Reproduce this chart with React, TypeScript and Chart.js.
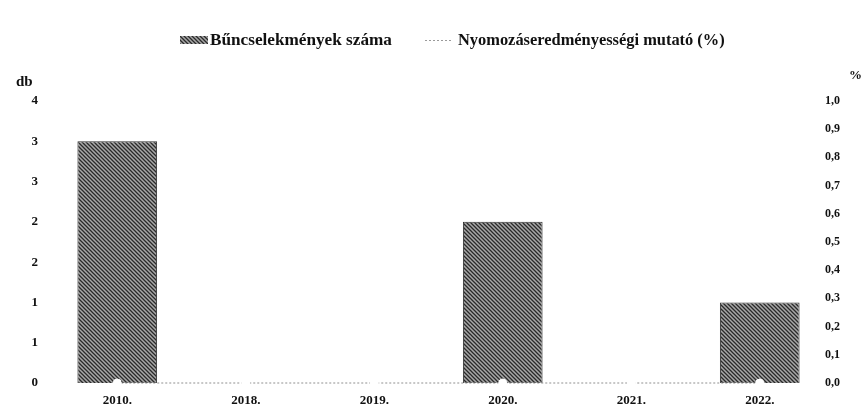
import React, { useEffect, useRef } from "react";
import { Chart, registerables } from "chart.js";

Chart.register(...registerables);

const categories = ["2010.", "2018.", "2019.", "2020.", "2021.", "2022."];
const crimeCounts = [3, 0, 0, 2, 0, 1];
const clearanceRate = [0, 0, 0, 0, 0, 0];
const seriesNames = ["Bűncselekmények száma", "Nyomozáseredményességi mutató (%)"];
const leftAxisTitle = "db";
const rightAxisTitle = "%";

const SERIF = "'Liberation Serif', 'DejaVu Serif', serif";

function makePattern(): CanvasPattern | string {
  const c = document.createElement("canvas");
  c.width = 4;
  c.height = 4;
  const g = c.getContext("2d");
  if (!g) return "#666";
  g.fillStyle = "#a8a8a8";
  g.fillRect(0, 0, 4, 4);
  g.strokeStyle = "#2a2a2a";
  g.lineWidth = 1.3;
  g.beginPath();
  g.moveTo(-1, -1);
  g.lineTo(5, 5);
  g.moveTo(-1, 3);
  g.lineTo(1, 5);
  g.moveTo(3, -1);
  g.lineTo(5, 1);
  g.stroke();
  const p = g.createPattern(c, "repeat");
  return p || "#666";
}

export default function App() {
  const ref = useRef<HTMLCanvasElement | null>(null);

  useEffect(() => {
    if (!ref.current) return;
    const pattern = makePattern();

    const fitText = (ctx: CanvasRenderingContext2D, text: string, weight: string, target: number) => {
      ctx.font = `${weight} 20px ${SERIF}`;
      const w = ctx.measureText(text).width;
      const size = (20 * target) / w;
      ctx.font = `${weight} ${size.toFixed(2)}px ${SERIF}`;
    };

    const overlay = {
      id: "overlay",
      afterDraw(chart: any) {
        const ctx: CanvasRenderingContext2D = chart.ctx;
        ctx.save();
        // legend item 1
        ctx.fillStyle = pattern as any;
        ctx.fillRect(180, 36, 28, 8);
        ctx.fillStyle = "#111";
        ctx.textBaseline = "middle";
        ctx.textAlign = "left";
        fitText(ctx, seriesNames[0], "bold", 182);
        ctx.fillText(seriesNames[0], 210, 41);
        // legend item 2
        ctx.strokeStyle = "#9a9a9a";
        ctx.lineWidth = 1;
        ctx.setLineDash([2, 2]);
        ctx.beginPath();
        ctx.moveTo(425, 40.5);
        ctx.lineTo(451, 40.5);
        ctx.stroke();
        ctx.setLineDash([]);
        ctx.fillStyle = "#111";
        fitText(ctx, seriesNames[1], "bold", 267);
        ctx.fillText(seriesNames[1], 458, 41);
        // axis titles
        ctx.font = `bold 15px ${SERIF}`;
        ctx.fillText(leftAxisTitle, 16, 82);
        ctx.font = `bold 13px ${SERIF}`;
        ctx.fillText(rightAxisTitle, 849, 76);
        ctx.restore();
      },
    };

    const chart = new Chart(ref.current, {
      type: "bar",
      data: {
        labels: categories,
        datasets: [
          {
            type: "bar",
            label: seriesNames[0],
            data: crimeCounts,
            backgroundColor: pattern as any,
            borderColor: "#333",
            borderWidth: 1,
            barPercentage: 0.62,
            categoryPercentage: 1,
            yAxisID: "y",
            order: 2,
          },
          {
            type: "line",
            label: seriesNames[1],
            data: clearanceRate,
            borderColor: "#8f8f8f",
            borderWidth: 1,
            borderDash: [2, 2],
            pointRadius: 4,
            pointBackgroundColor: "#ffffff",
            pointBorderColor: "#ffffff",
            yAxisID: "y1",
            order: 1,
            clip: false as any,
          },
        ],
      },
      options: {
        responsive: false,
        animation: false,
        layout: { padding: { top: 101, left: 0, right: 0, bottom: 0 } },
        plugins: {
          legend: { display: false },
          tooltip: { enabled: false },
          title: { display: false },
        },
        scales: {
          x: {
            grid: { display: false, drawTicks: false },
            border: { display: false },
            ticks: {
              padding: 10,
              color: "#111",
              font: { family: SERIF, size: 13, weight: "bold" },
              maxRotation: 0,
            },
            afterFit(scale: any) {
              scale.height = 25;
            },
          },
          y: {
            position: "left",
            min: 0,
            max: 3.5,
            grid: { display: false, drawTicks: false },
            border: { display: false },
            ticks: {
              stepSize: 0.5,
              padding: 15,
              color: "#111",
              font: { family: SERIF, size: 13, weight: "bold" },
              callback: (v: any) => String(Math.round(Number(v))),
            },
            afterFit(scale: any) {
              scale.width = 53;
            },
          },
          y1: {
            position: "right",
            min: 0,
            max: 1,
            grid: { display: false, drawTicks: false },
            border: { display: false },
            ticks: {
              stepSize: 0.1,
              padding: 1,
              color: "#111",
              font: { family: SERIF, size: 12, weight: "bold" },
              callback: (v: any) => Number(v).toFixed(1).replace(".", ","),
            },
            afterFit(scale: any) {
              scale.width = 42;
            },
          },
        },
      },
      plugins: [overlay],
    });

    return () => chart.destroy();
  }, []);

  return (
    <div style={{ position: "fixed", left: 0, top: 0, width: 866, height: 408, background: "#fff" }}>
      <canvas ref={ref} width={866} height={408} style={{ display: "block", width: 866, height: 408 }} />
    </div>
  );
}
